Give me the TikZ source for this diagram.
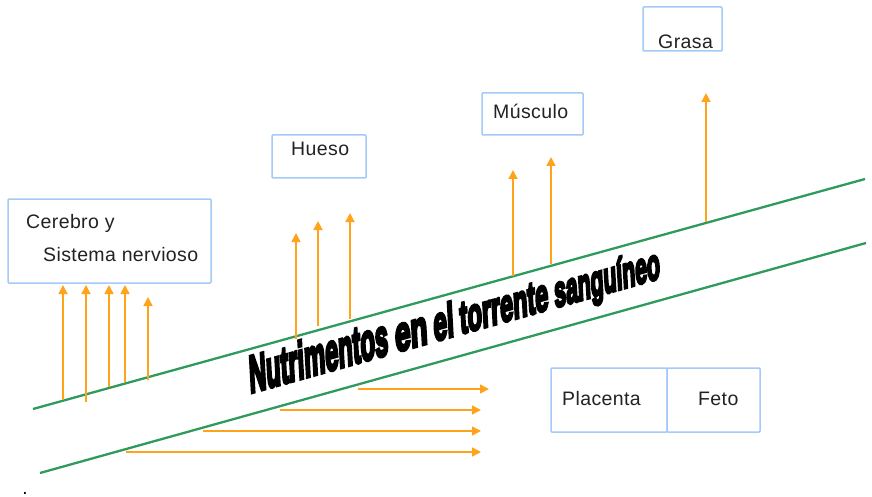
\documentclass[tikz,border=0pt]{standalone}
\usepackage{fontspec}
\setmainfont{Liberation Sans}[LetterSpace=2]
\newfontfamily\heavyfont{Liberation Sans}[BoldFeatures={FakeBold=7}]
\usetikzlibrary{arrows.meta}
\definecolor{boxblue}{HTML}{A4CAF6}
\definecolor{vein}{HTML}{2E9A5C}
\definecolor{flow}{HTML}{FFA31A}
\definecolor{ink}{HTML}{222222}
\tikzset{
  organ/.style={draw=boxblue, line width=1.5pt, rectangle, inner sep=0pt, rounded corners=1pt},
  lbl/.style={font=\fontsize{19.5}{22}\selectfont, text=ink, inner sep=0pt, anchor=base west},
  vessel/.style={draw=vein, line width=2.3pt},
  feed/.style={draw=flow, line width=1.6pt, -{Triangle[width=9pt,length=9pt]}},
  word/.style={anchor=base west, inner sep=0pt, text=black, rotate=15.64, xslant=0.22},
}
\begin{document}
\begin{tikzpicture}[x=1pt,y=-1pt]
\useasboundingbox (0,0) rectangle (872,497);

% boxes
\node[organ, minimum width=203pt, minimum height=84pt] (cerebro) at (109.5,241) {};
\node[lbl] (cerebroA) at (26,228) {Cerebro y};
\node[lbl] (cerebroB) at (43,261) {Sistema nervioso};

\node[organ, minimum width=94pt, minimum height=43pt] (hueso) at (319,156.5) {};
\node[lbl] (huesoT) at (291,156) {Hueso};

\node[organ, minimum width=101pt, minimum height=42pt] (musculo) at (532.5,114) {};
\node[lbl] (musculoT) at (493,119) {Músculo};

\node[organ, minimum width=79pt, minimum height=44pt] (grasa) at (682.5,29) {};
\node[lbl] (grasaT) at (658,49) {Grasa};

\node[organ, minimum width=116pt, minimum height=64pt] (placenta) at (609,400) {};
\node[organ, minimum width=93pt, minimum height=64pt] (feto) at (713.5,400) {};
\node[lbl] (placentaT) at (562,405) {Placenta};
\node[lbl] (fetoT) at (698,405) {Feto};

% vessel walls
\coordinate (upA) at (33,409);
\coordinate (upB) at (865,179);
\coordinate (loA) at (40,473);
\coordinate (loB) at (866,243);
\draw[vessel] (upA) -- (upB);
\draw[vessel] (loA) -- (loB);

% vertical arrows
\foreach \n/\x/\ya/\yb in {1/63/400/285, 2/86/402/285, 3/109/387/285, 4/125/382/285, 5/148/380/297,
  6/296/339/233, 7/318/326/221, 8/350/319/213,
  9/513/276/170, 10/551/264/157, 11/706/222/93}{
  \coordinate (vs\n) at (\x,\ya);
  \coordinate (ve\n) at (\x,\yb);
  \draw[feed] (vs\n) -- (ve\n);
}
% horizontal arrows
\foreach \n/\y/\xa/\xb in {1/389/358/489, 2/410/280/481, 3/431/203/481, 4/452/126/481}{
  \coordinate (hs\n) at (\xa,\y);
  \coordinate (he\n) at (\xb,\y);
  \draw[feed] (hs\n) -- (he\n);
}

% title in the vessel
\node[word, xscale=0.48] (w1) at (250,393) {\heavyfont\bfseries\fontsize{51}{51}\selectfont Nutrimentos};
\node[word, xscale=0.60] (w2) at ([shift={(15.64:7pt)}]w1.base east) {\heavyfont\bfseries\fontsize{48}{48}\selectfont en};
\node[word, xscale=0.54] (w3) at ([shift={(15.64:6pt)}]w2.base east) {\heavyfont\bfseries\fontsize{47}{47}\selectfont el};
\node[word, xscale=0.54] (w4) at ([shift={(15.64:6pt)}]w3.base east) {\heavyfont\bfseries\fontsize{45}{45}\selectfont torrente};
\node[word, xscale=0.51] (w5) at ([shift={(15.64:6pt)}]w4.base east) {\heavyfont\bfseries\fontsize{43}{43}\selectfont sanguíneo};

\node[inner sep=0pt, anchor=base, font=\fontsize{19}{22}\selectfont] (dot) at (25,494.5) {.};
\end{tikzpicture}
\end{document}
